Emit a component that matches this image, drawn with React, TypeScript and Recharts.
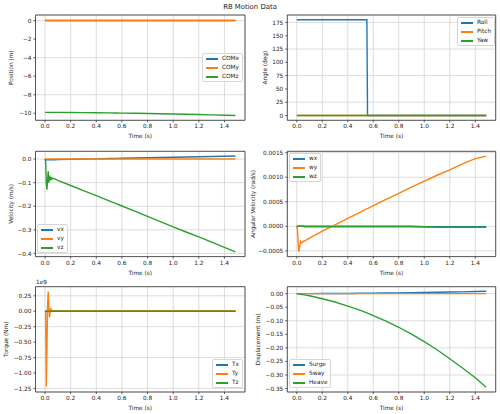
import React from "react";
import {
  LineChart,
  Line,
  XAxis,
  YAxis,
  CartesianGrid,
  ReferenceArea,
  Legend,
} from "recharts";

// sample times (s), denser at the start where the transient is
const time = [
  0, 0.005, 0.01, 0.015, 0.02, 0.025, 0.03, 0.035, 0.04, 0.045, 0.05, 0.06, 0.08, 0.1, 0.2, 0.3,
  0.4, 0.5, 0.55, 0.555, 0.6, 0.7, 0.8, 0.9, 1.0, 1.1, 1.2, 1.3, 1.4, 1.486,
];

// position (m)
const comX = [
  0, 0, 0, 0, 0, 0, 0, 0, 0, 0, 0, 0, 0, 0, 0.0002, 0.0004, 0.0007, 0.0011, 0.0013, 0.0013,
  0.0015, 0.002, 0.0026, 0.0033, 0.004, 0.0048, 0.0057, 0.0066, 0.0076, 0.0086,
];
const comY = [
  0, 0, 0, 0, 0, 0, 0, 0, 0, 0, 0, 0, 0, 0, 0, 0, 0, 0, 0, 0, 0, 0, 0, 0, 0, 0, 0, 0, 0, 0,
];
const comZ = [
  -9.9, -9.9003, -9.9007, -9.901, -9.9015, -9.902, -9.9023, -9.9027, -9.903, -9.9034, -9.9038,
  -9.9046, -9.9063, -9.908, -9.919, -9.931, -9.946, -9.962, -9.971, -9.972, -9.981, -10.001,
  -10.024, -10.049, -10.077, -10.107, -10.14, -10.174, -10.21, -10.245,
];

// angles (deg)
const roll = [
  180, 180, 180, 180, 180, 180, 180, 180, 180, 180, 180, 180, 180, 180, 180, 180, 180, 180, 180,
  0, 0, 0, 0, 0, 0, 0, 0, 0, 0, 0,
];
const pitch = [
  0, 0, 0, 0, 0, 0, 0, 0, 0, 0, 0, 0, 0, 0, 0, 0, 0, 0, 0, 0, 0, 0, 0, 0, 0, 0, 0, 0, 0, 0,
];
const yaw = [
  0, 0, 0, 0, 0, 0, 0, 0, 0, 0, 0, 0, 0, 0, 0, 0, 0, 0, 0, 0, 0, 0, 0, 0, 0, 0, 0, 0, 0, 0,
];

// velocity (m/s)
const vx = [
  0, -0.002, -0.003, -0.0032, -0.0032, -0.0032, -0.0031, -0.0031, -0.003, -0.003, -0.003,
  -0.0029, -0.0027, -0.0025, -0.0013, -0.0002, 0.0009, 0.002, 0.0026, 0.0027, 0.0032, 0.0043,
  0.0054, 0.0065, 0.0076, 0.0087, 0.0098, 0.0109, 0.012, 0.013,
];
const vy = [
  0, 0, 0, 0, 0, 0, 0, 0, 0, 0, 0, 0, 0, 0, 0, 0, 0, 0, 0, 0, 0, 0, 0, 0, 0, 0, 0, 0, 0, 0,
];
const vz = [
  0, -0.01, -0.1, -0.13, -0.09, -0.052, -0.1, -0.07, -0.09, -0.076, -0.086, -0.081, -0.085,
  -0.09, -0.112, -0.134, -0.155, -0.177, -0.188, -0.189, -0.199, -0.221, -0.243, -0.265, -0.287,
  -0.309, -0.33, -0.352, -0.374, -0.393,
];

// angular velocity (rad/s)
const wx = [
  0, 0, 0, 0, 0, 0, 0, 0, 0, 0, 0, 0, 0, 0, 0, 0, 0, 0, 0, 0, 0, 0, 0, 0, -0.00001, -0.00001,
  -0.00001, -0.00001, -0.00001, -0.00001,
];
const wy = [
  0, -0.00005, -0.0003, -0.00052, -0.00045, -0.00038, -0.00031, -0.00034, -0.00034, -0.00032,
  -0.00031, -0.0003, -0.00027, -0.00024, -0.0001, 0.00003, 0.00016, 0.00029, 0.00036, 0.00036,
  0.00042, 0.00055, 0.00067, 0.0008, 0.00092, 0.00104, 0.00115, 0.00127, 0.00138, 0.00143,
];
const wz = [
  0, 0, 0, 0, 0, 0, 0, 0, 0, 0, 0, -0.00001, -0.00001, -0.00001, -0.00001, -0.00001, -0.00001,
  -0.00001, -0.00001, -0.00001, -0.00001, -0.00001, -0.00001, -0.00001,
  -0.00001, -0.00002, -0.00002, -0.00002, -0.00002, -0.00002,
];

// torque (Nm)
const tx = [
  0, 0, 0, 0, 0, 0, 0, 0, 0, 0, 0, 0, 0, 0, 0, 0, 0, 0, 0, 0, 0, 0, 0, 0, 0, 0, 0, 0, 0, 0,
];
const ty = [
  0, -0.02e9, -1.22e9, -0.6e9, 0.1e9, 0.32e9, 0.05e9, -0.1e9, -0.02e9, 0.04e9, 0.02e9, 0.01e9,
  0.008e9, 0.008e9, 0.008e9, 0.008e9, 0.008e9, 0.008e9, 0.008e9, 0.008e9, 0.008e9, 0.008e9,
  0.008e9, 0.008e9, 0.008e9, 0.008e9, 0.008e9, 0.008e9, 0.008e9, 0.008e9,
];
const tz = [
  0, 0, 0, 0, 0, 0, 0, 0, 0, 0, 0, 0, 0, 0, 0, 0, 0, 0, 0, 0, 0, 0, 0, 0, 0, 0, 0, 0, 0, 0,
];

// displacement (m)
const surge = comX;
const sway = [
  0, 0, 0, 0, 0, 0, 0, 0, 0, 0, 0, 0, 0, 0, 0, 0, 0, 0, 0, 0, 0, 0, 0, 0, 0, 0, 0, 0, 0, 0,
];
const heave = [
  0, -0.0003, -0.0007, -0.001, -0.0015, -0.002, -0.0023, -0.0027, -0.003, -0.0034, -0.0038,
  -0.0046, -0.0063, -0.008, -0.019, -0.031, -0.046, -0.062, -0.071, -0.072, -0.081, -0.101,
  -0.124, -0.149, -0.177, -0.207, -0.24, -0.274, -0.31, -0.345,
];

const xTicks = [0, 0.2, 0.4, 0.6, 0.8, 1.0, 1.2, 1.4];

const rows = time.map((t, i) => ({
  t,
  comX: comX[i], comY: comY[i], comZ: comZ[i],
  roll: roll[i], pitch: pitch[i], yaw: yaw[i],
  vx: vx[i], vy: vy[i], vz: vz[i],
  wx: wx[i], wy: wy[i], wz: wz[i],
  tx: tx[i], ty: ty[i], tz: tz[i],
  surge: surge[i], sway: sway[i], heave: heave[i],
}));

const COLORS = ["#1f77b4", "#ff7f0e", "#2ca02c"];
const FONT = "'DejaVu Sans', sans-serif";
const FS = 5.8;
const X_DOMAIN: [number, number] = [-0.0743, 1.5603];

const COL_LEFT = [0, 250];
const Y_W = [35.5, 37.3];
const PLOT_W = [209.5, 208.4];
const PLOT_TOP = [15, 151.3, 286.7];
const PLOT_H = 105.3;
const M_TOP = 12;
const X_H = 24;

const minus = (s: string) => s.replace("-", "\u2212");
const fixed = (d: number) => (v: number) => minus(v.toFixed(d));

// legend drawn in series order (recharts would sort it by name)
const LegendBox = ({ names }: { names: string[] }) => (
  <div
    style={{
      background: "rgba(255,255,255,0.8)",
      border: "1px solid #d6d6d6",
      borderRadius: 2,
      padding: "0 3px",
      fontFamily: FONT,
      fontSize: FS,
      lineHeight: "9px",
      color: "#222",
      whiteSpace: "nowrap",
    }}
  >
    {names.map((n, i) => (
      <div key={n} style={{ display: "flex", alignItems: "center", height: 9 }}>
        <span
          style={{ display: "inline-block", width: 12, height: 2, background: COLORS[i], marginRight: 4 }}
        />
        {n}
      </div>
    ))}
  </div>
);

type PanelProps = {
  col: number;
  row: number;
  keys: string[];
  names: string[];
  yDomain: [number, number];
  yTicks: number[];
  yFmt: (v: number) => string;
  yLabel: string;
  yLabelX: number;
  legendAt: [number, number];
};

const Panel = ({ col, row, keys, names, yDomain, yTicks, yFmt, yLabel, yLabelX, legendAt }: PanelProps) => {
  const left = COL_LEFT[col];
  const top = Math.round(PLOT_TOP[row] - M_TOP);
  const mTop = PLOT_TOP[row] - top;
  const height = Math.round(mTop + PLOT_H + X_H);
  const tickStyle = { fontSize: FS, fontFamily: FONT, fill: "#222" };
  return (
    <div style={{ position: "absolute", left, top }}>
      <LineChart
        width={250}
        height={height}
        data={rows}
        margin={{ top: mTop, right: 250 - Y_W[col] - PLOT_W[col], bottom: height - mTop - PLOT_H - X_H, left: 0 }}
      >
        <CartesianGrid stroke="#d4d4d4" strokeWidth={0.8} />
        <XAxis
          dataKey="t"
          type="number"
          domain={X_DOMAIN}
          ticks={xTicks}
          tickFormatter={fixed(1)}
          allowDataOverflow
          height={X_H}
          tick={tickStyle}
          tickSize={2}
          tickMargin={2}
          axisLine={false}
          tickLine={{ stroke: "#333", strokeWidth: 0.8 }}
          label={{ value: "Time (s)", position: "insideBottom", offset: 6, style: { ...tickStyle } }}
        />
        <YAxis
          type="number"
          domain={yDomain}
          ticks={yTicks}
          tickFormatter={yFmt}
          allowDataOverflow
          width={Y_W[col]}
          tick={tickStyle}
          tickSize={2}
          tickMargin={2}
          axisLine={false}
          tickLine={{ stroke: "#333", strokeWidth: 0.8 }}
          label={{
            value: yLabel,
            angle: -90,
            position: "insideLeft",
            offset: yLabelX - left,
            style: { ...tickStyle, textAnchor: "middle" },
          }}
        />
        <ReferenceArea
          x1={X_DOMAIN[0]}
          x2={X_DOMAIN[1]}
          y1={yDomain[0]}
          y2={yDomain[1]}
          fillOpacity={0}
          stroke="#333"
          strokeWidth={0.8}
          ifOverflow="visible"
        />
        {keys.map((k, i) => (
          <Line
            key={k}
            dataKey={k}
            name={names[i]}
            type="linear"
            stroke={COLORS[i]}
            strokeWidth={1.4}
            dot={false}
            isAnimationActive={false}
          />
        ))}
        <Legend
          layout="vertical"
          align="center"
          verticalAlign="middle"
          content={() => <LegendBox names={names} />}
          wrapperStyle={{
            left: Math.round(legendAt[0] - left),
            top: Math.round(legendAt[1] - top),
            width: "auto",
            height: "auto",
          }}
        />
      </LineChart>
    </div>
  );
};

export default function App() {
  return (
    <div
      style={{
        position: "absolute",
        left: 0,
        top: 0,
        width: 500,
        height: 414,
        background: "#fff",
        fontFamily: FONT,
        overflow: "hidden",
      }}
    >
      <div
        style={{
          position: "absolute",
          top: 2.5,
          left: 0,
          width: 500,
          textAlign: "center",
          fontSize: 6.9,
          lineHeight: "8px",
          color: "#222",
        }}
      >
        RB Motion Data
      </div>
      <Panel
        col={0}
        row={0}
        keys={["comX", "comY", "comZ"]}
        names={["COMx", "COMy", "COMz"]}
        yDomain={[-10.76, 0.6]}
        yTicks={[-10, -8, -6, -4, -2, 0]}
        yFmt={fixed(0)}
        yLabel="Position (m)"
        yLabelX={11}
        legendAt={[202.3, 53.3]}
      />
      <Panel
        col={1}
        row={0}
        keys={["roll", "pitch", "yaw"]}
        names={["Roll", "Pitch", "Yaw"]}
        yDomain={[-9, 189]}
        yTicks={[0, 25, 50, 75, 100, 125, 150, 175]}
        yFmt={fixed(0)}
        yLabel="Angle (deg)"
        yLabelX={265}
        legendAt={[457.3, 17.3]}
      />
      <Panel
        col={0}
        row={1}
        keys={["vx", "vy", "vz"]}
        names={["vx", "vy", "vz"]}
        yDomain={[-0.4133, 0.0328]}
        yTicks={[-0.4, -0.3, -0.2, -0.1, 0]}
        yFmt={fixed(1)}
        yLabel="Velocity (m/s)"
        yLabelX={10.7}
        legendAt={[36.7, 224.3]}
      />
      <Panel
        col={1}
        row={1}
        keys={["wx", "wy", "wz"]}
        names={["wx", "wy", "wz"]}
        yDomain={[-0.000618, 0.001528]}
        yTicks={[-0.0005, 0, 0.0005, 0.001, 0.0015]}
        yFmt={fixed(4)}
        yLabel="Angular Velocity (rad/s)"
        yLabelX={253}
        legendAt={[289.3, 152.7]}
      />
      <Panel
        col={0}
        row={2}
        keys={["tx", "ty", "tz"]}
        names={["Tx", "Ty", "Tz"]}
        yDomain={[-1.3075e9, 0.3975e9]}
        yTicks={[-1.25e9, -1e9, -0.75e9, -0.5e9, -0.25e9, 0, 0.25e9]}
        yFmt={(v: number) => minus((v / 1e9).toFixed(2))}
        yLabel="Torque (Nm)"
        yLabelX={6}
        legendAt={[212, 359]}
      />
      <Panel
        col={1}
        row={2}
        keys={["surge", "sway", "heave"]}
        names={["Surge", "Sway", "Heave"]}
        yDomain={[-0.3627, 0.0255]}
        yTicks={[-0.35, -0.3, -0.25, -0.2, -0.15, -0.1, -0.05, 0]}
        yFmt={fixed(2)}
        yLabel="Displacement (m)"
        yLabelX={258.3}
        legendAt={[289.3, 359]}
      />
      <div
        style={{
          position: "absolute",
          left: 36,
          top: 278.5,
          fontSize: FS,
          lineHeight: "7px",
          color: "#222",
        }}
      >
        1e9
      </div>
    </div>
  );
}
